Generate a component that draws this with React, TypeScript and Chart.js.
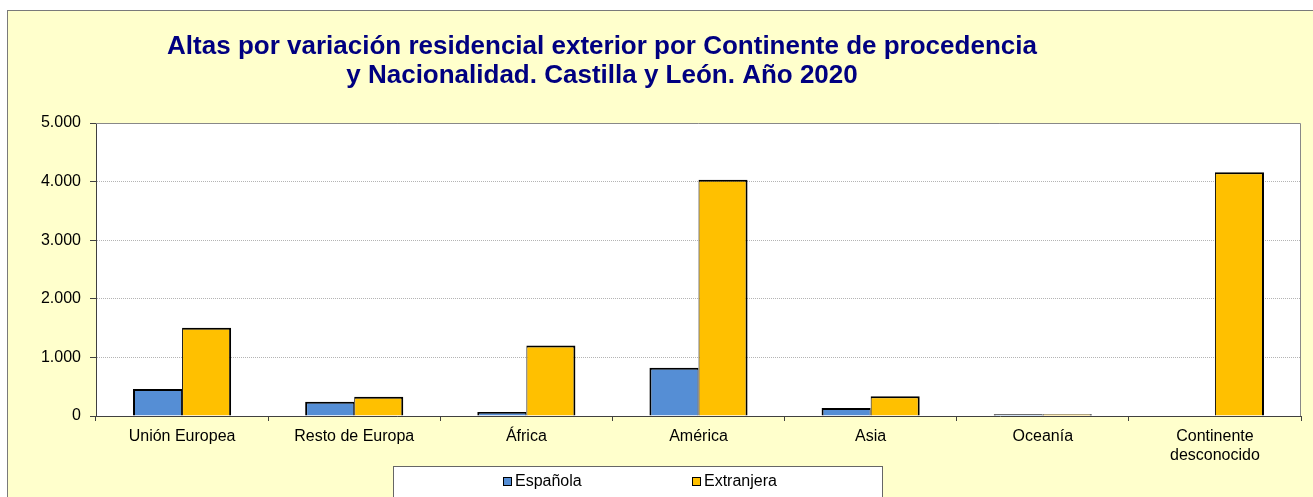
import React, { useEffect, useRef } from 'react';
import { Chart, registerables } from 'chart.js';

Chart.register(...registerables);

// ---- Data ----
const categories: (string | string[])[] = [
  'Unión Europea',
  'Resto de Europa',
  'África',
  'América',
  'Asia',
  'Oceanía',
  ['Continente', 'desconocido'],
];
const espanola = [460, 242, 68, 824, 138, 28, 10];
const extranjera = [1505, 328, 1205, 4030, 335, 30, 4160];
const seriesNames = ['Española', 'Extranjera'];
const seriesColors = ['#558ED5', '#FFC000'];
const yTickLabels = ['0', '1.000', '2.000', '3.000', '4.000', '5.000'];
const titleLines = [
  'Altas por variación residencial exterior por Continente de procedencia',
  'y Nacionalidad. Castilla y León. Año 2020',
];

const FONT = '"Liberation Sans", Arial, Helvetica, sans-serif';

const framePlugin = {
  id: 'excelFrame',
  beforeDraw(chart: any) {
    const { ctx, chartArea: a, width, height } = chart;
    ctx.save();
    ctx.fillStyle = '#ffffff';
    ctx.fillRect(0, 0, width, height);
    ctx.fillStyle = '#FFFFCC';
    ctx.fillRect(7, 10, width - 7, height - 10);
    ctx.strokeStyle = '#7a7a7a';
    ctx.lineWidth = 1;
    ctx.strokeRect(7.5, 10.5, width + 20, height + 20);
    ctx.fillStyle = '#ffffff';
    ctx.fillRect(a.left, a.top, a.right - a.left, a.bottom - a.top);
    ctx.restore();
  },
  afterDraw(chart: any) {
    const { ctx, chartArea: a } = chart;
    ctx.save();
    // plot area frame (top & right)
    ctx.strokeStyle = '#888888';
    ctx.lineWidth = 1;
    ctx.beginPath();
    ctx.moveTo(a.left, a.top + 0.5);
    ctx.lineTo(a.right - 0.5, a.top + 0.5);
    ctx.lineTo(a.right - 0.5, a.bottom);
    ctx.stroke();

    // title
    ctx.fillStyle = '#000080';
    ctx.font = `bold 26px ${FONT}`;
    ctx.textAlign = 'center';
    ctx.textBaseline = 'alphabetic';
    ctx.fillText(titleLines[0], 602, 54);
    ctx.fillText(titleLines[1], 602, 83);

    // legend box
    ctx.fillStyle = '#ffffff';
    ctx.fillRect(393, 466, 489, 40);
    ctx.strokeStyle = '#666666';
    ctx.strokeRect(393.5, 466.5, 489, 40);

    const itemX = [503, 692];
    chart.data.datasets.forEach((ds: any, i: number) => {
      const x = itemX[i];
      ctx.fillStyle = ds.backgroundColor;
      ctx.fillRect(x, 477, 9, 9);
      ctx.strokeStyle = '#000000';
      ctx.lineWidth = 1;
      ctx.strokeRect(x + 0.5, 477.5, 8, 8);
      ctx.fillStyle = '#000000';
      ctx.font = `16px ${FONT}`;
      ctx.textAlign = 'left';
      ctx.textBaseline = 'middle';
      ctx.fillText(ds.label, x + 12, 482);
    });
    ctx.restore();
  },
};

export default function App() {
  const ref = useRef<HTMLCanvasElement | null>(null);

  useEffect(() => {
    if (!ref.current) return;
    const chart = new Chart(ref.current, {
      type: 'bar',
      data: {
        labels: categories as any,
        datasets: [
          {
            label: seriesNames[0],
            data: espanola,
            backgroundColor: seriesColors[0],
            borderColor: '#000000',
            borderWidth: { top: 2, left: 2, right: 1, bottom: 0 } as any,
            borderSkipped: 'start',
            categoryPercentage: 0.57,
            barPercentage: 1.0,
          },
          {
            label: seriesNames[1],
            data: extranjera,
            backgroundColor: seriesColors[1],
            borderColor: '#000000',
            borderWidth: { top: 2, left: 1, right: 2, bottom: 0 } as any,
            borderSkipped: 'start',
            categoryPercentage: 0.57,
            barPercentage: 1.0,
          },
        ],
      },
      options: {
        responsive: false,
        maintainAspectRatio: false,
        devicePixelRatio: 1,
        animation: false,
        layout: { padding: { top: 123, left: 0, right: 12, bottom: 0 } },
        plugins: {
          legend: { display: false },
          title: { display: false },
          tooltip: { enabled: false },
        },
        scales: {
          x: {
            grid: {
              display: true,
              drawOnChartArea: false,
              drawTicks: true,
              tickLength: 5,
              tickColor: '#404040',
              offset: true,
            },
            border: { display: true, color: '#404040', width: 1 },
            ticks: {
              color: '#000000',
              font: { family: FONT, size: 16 },
              padding: 6,
              maxRotation: 0,
              autoSkip: false,
            },
            afterFit: (s: any) => {
              s.height = 81;
            },
          },
          y: {
            min: 0,
            max: 5000,
            ticks: {
              stepSize: 1000,
              padding: 9,
              color: '#000000',
              font: { family: FONT, size: 16 },
              callback: (_v: any, i: number) => yTickLabels[i],
            },
            grid: {
              color: '#b4b4b4',
              tickColor: '#404040',
              tickLength: 6,
              drawTicks: true,
            },
            border: { display: true, color: '#404040', width: 1, dash: [1, 1] },
            afterFit: (s: any) => {
              s.width = 96;
            },
          },
        },
      },
      plugins: [framePlugin],
    });
    return () => chart.destroy();
  }, []);

  return (
    <div style={{ position: 'absolute', left: 0, top: 0, width: 1313, height: 497, overflow: 'hidden' }}>
      <canvas ref={ref} width={1313} height={497} style={{ display: 'block', width: 1313, height: 497 }} />
    </div>
  );
}
